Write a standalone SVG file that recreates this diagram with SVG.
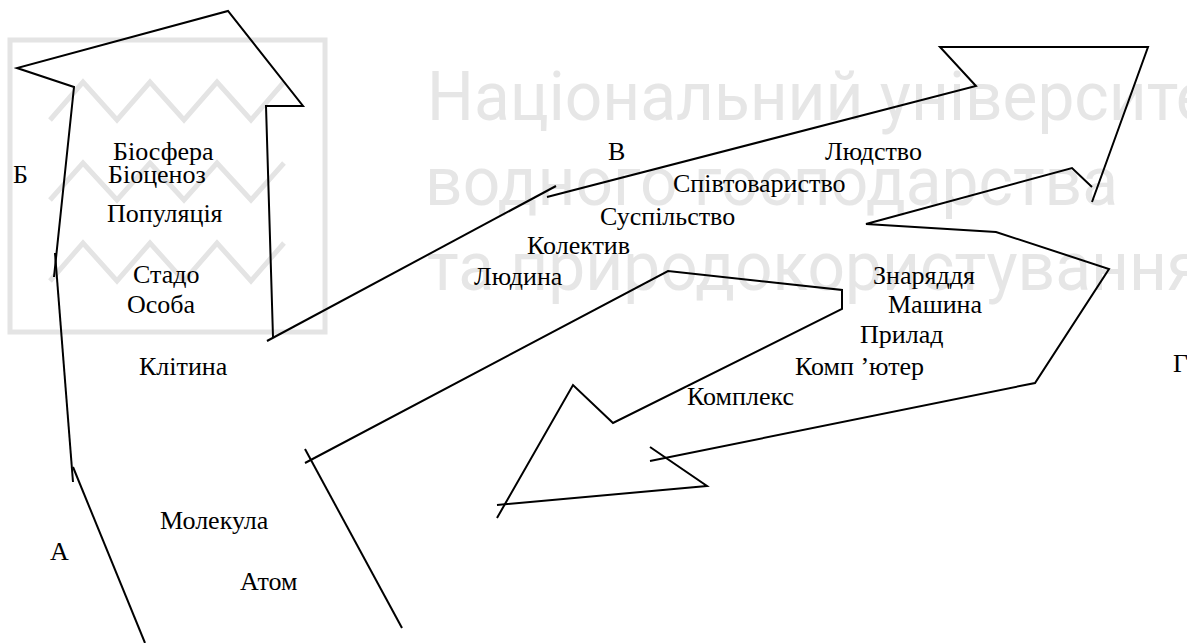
<svg xmlns="http://www.w3.org/2000/svg" width="1187" height="643" viewBox="0 0 1187 643">
<style>
.wm{fill:none;stroke:#e4e4e4;stroke-width:5;stroke-linejoin:miter}
.wt{fill:#e6e6e6;font-family:Roboto,"Liberation Sans",sans-serif;font-size:68px}
.ln{fill:none;stroke:#000;stroke-width:2;stroke-linejoin:miter;stroke-linecap:butt}
.lb{fill:#000;font-family:"Liberation Serif","Times New Roman",serif;font-size:26px}
</style>
<rect width="1187" height="643" fill="#fff"/>
<g id="watermark">
<rect class="wm" x="10" y="40" width="315" height="292"/>
<polyline class="wm" points="50,120 83,82 117,120 150,82 184,120 217,82 251,120 284,82"/>
<polyline class="wm" points="50,200 83,163 117,200 150,163 184,200 217,163 251,200 284,163"/>
<polyline class="wm" points="50,281 83,243 117,281 150,243 184,281 217,243 251,281 284,243"/>
<text class="wt" x="427" y="120" textLength="815" lengthAdjust="spacingAndGlyphs">Національний університет</text>
<text class="wt" x="425" y="205" textLength="693" lengthAdjust="spacingAndGlyphs">водного господарства</text>
<text class="wt" x="427" y="290" textLength="776" lengthAdjust="spacingAndGlyphs">та природокористування</text>
</g>
<g id="connectors">
<polyline class="ln" points="145,643 73,467"/>
<polyline class="ln" points="73,482 55,253"/>
<polyline class="ln" points="54,277 74,87 17,68 228,11 303,106 266,106 273,337"/>
<polyline class="ln" points="267,341 556,186"/>
<polyline class="ln" points="547,197 976,86 940,47 1148,47 1092,202"/>
<polyline class="ln" points="1092,187 1072,168 866,224 996,232 1109,269 1035,383 650,461"/>
<polyline class="ln" points="650,447 707,486 497,505"/>
<polyline class="ln" points="497,518 573,385 613,423 842,309 842,290 668,271 305,463"/>
<polyline class="ln" points="305,449 402,628"/>
</g>
<g id="node-B-nature">
<text class="lb" x="13" y="183">Б</text>
<text class="lb" x="113" y="160">Біосфера</text>
<text class="lb" x="108" y="183">Біоценоз</text>
<text class="lb" x="107" y="222">Популяція</text>
<text class="lb" x="133" y="283">Стадо</text>
<text class="lb" x="127" y="313">Особа</text>
<text class="lb" x="139" y="375">Клітина</text>
</g>
<g id="node-A-matter">
<text class="lb" x="50" y="560">А</text>
<text class="lb" x="160" y="529">Молекула</text>
<text class="lb" x="240" y="590">Атом</text>
</g>
<g id="node-V-society">
<text class="lb" x="608" y="160">В</text>
<text class="lb" x="825" y="160">Людство</text>
<text class="lb" x="673" y="192">Співтовариство</text>
<text class="lb" x="600" y="225">Суспільство</text>
<text class="lb" x="527" y="254">Колектив</text>
<text class="lb" x="474" y="285">Людина</text>
</g>
<g id="node-G-technics">
<text class="lb" x="873" y="284">Знаряддя</text>
<text class="lb" x="888" y="313">Машина</text>
<text class="lb" x="860" y="343">Прилад</text>
<text class="lb" x="795" y="375">Комп ’ютер</text>
<text class="lb" x="687" y="405">Комплекс</text>
<text class="lb" x="1173" y="372">Г</text>
</g>
</svg>
